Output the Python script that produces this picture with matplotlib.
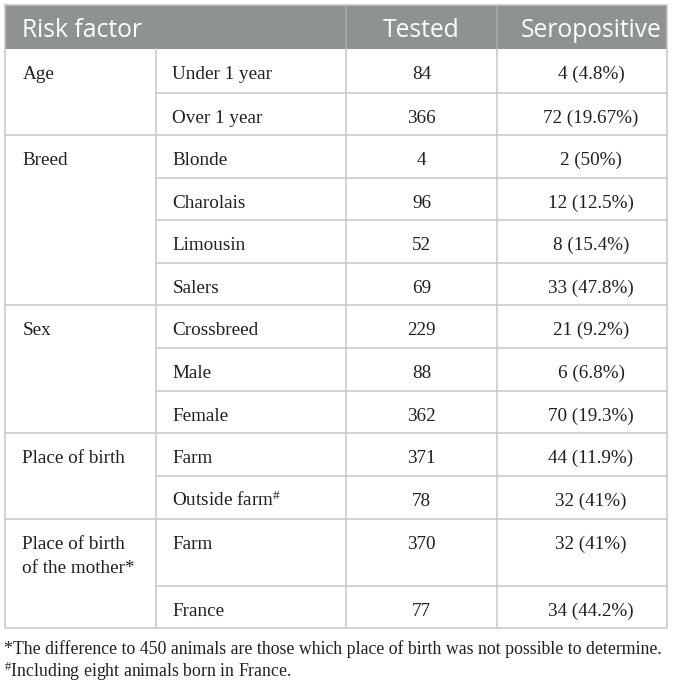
import matplotlib
matplotlib.use("Agg")
import matplotlib.pyplot as plt

# ---- data ----
header = ["Risk factor", "Tested", "Seropositive"]
factors = ["Age", "Breed", "Sex", "Place of birth", "Place of birth\nof the mother*"]
group_sizes = [2, 4, 3, 2, 2]
levels = ["Under 1 year", "Over 1 year", "Blonde", "Charolais", "Limousin", "Salers",
          "Crossbreed", "Male", "Female", "Farm", "Outside farm$^{\\#}$", "Farm", "France"]
tested = [84, 366, 4, 96, 52, 69, 229, 88, 362, 371, 78, 370, 77]
positive = [4, 72, 2, 12, 8, 33, 21, 6, 70, 44, 32, 32, 34]
percent = ["4.8", "19.67", "50", "12.5", "15.4", "47.8", "9.2", "6.8", "19.3", "11.9", "41", "41", "44.2"]
footnotes = ["*The difference to 450 animals are those which place of birth was not possible to determine.",
             "$^{\\#}$Including eight animals born in France."]

# ---- layout (pixels) ----
plt.rcParams['mathtext.fontset'] = 'custom'
plt.rcParams['mathtext.rm'] = 'Liberation Serif'
plt.rcParams['mathtext.it'] = 'Liberation Serif:italic'

W, H = 673, 686
fig = plt.figure(figsize=(W / 100, H / 100), dpi=100)
ax = fig.add_axes([0, 0, 1, 1])
ax.set_xlim(0, W)
ax.set_ylim(H, 0)
ax.axis('off')

left, right = 4.5, 667
col_x = [left, 156, 346, 497, right]
head_top, head_bot = 4.5, 49.3
row_tops = [49.3, 92.7, 135, 177.5, 220, 263, 305, 348, 391, 433.3, 476, 519, 586]
table_bot = 628

header_col = "#8e9293"
line_col = "#c6c6c6"
text_col = "#231f20"
lw = 1.1

# header
ax.add_patch(plt.Rectangle((left, head_top), right - left, head_bot - head_top,
                           facecolor=header_col, edgecolor='none', zorder=1))
for x in col_x[2:4]:
    ax.plot([x, x], [head_top, head_bot], color="#a9adae", lw=lw, zorder=2)
hfont = dict(family="Open Sans", fontsize=17.7, color="white", va="baseline")
ax.text(22.5, 36.7, header[0], ha="left", **hfont)
ax.text(421, 36.7, header[1], ha="center", **hfont)
ax.text(591, 36.7, header[2], ha="center", **hfont)

# body
bfont = dict(family="Liberation Serif", fontsize=13.8, color=text_col, va="baseline")
i = 0
for g, (fac, n) in enumerate(zip(factors, group_sizes)):
    gtop = row_tops[i]
    for k, line in enumerate(fac.split("\n")):
        ax.text(22.5, gtop + 30 + 24 * k, line, ha="left", **bfont)
    for j in range(n):
        top = row_tops[i]
        ax.text(172.5, top + 30, levels[i], ha="left", **bfont)
        ax.text(421.5, top + 30, str(tested[i]), ha="center", **bfont)
        ax.text(591, top + 30, f"{positive[i]} ({percent[i]}%)", ha="center", **bfont)
        if j > 0:
            ax.plot([col_x[1], right], [top, top], color=line_col, lw=lw, zorder=2)
        i += 1
    if g > 0:
        ax.plot([left, right], [gtop, gtop], color=line_col, lw=lw, zorder=2)

# verticals
for x in col_x[1:4]:
    ax.plot([x, x], [head_bot, table_bot], color=line_col, lw=lw, zorder=2)
# outer border
ax.plot([left, right, right, left, left], [head_top, head_top, table_bot, table_bot, head_top],
        color=line_col, lw=lw, zorder=3)

# footnotes
ffont = dict(family="Liberation Serif", fontsize=12.8, color=text_col, va="baseline", ha="left")
ax.text(4.5, 653.5, footnotes[0], **ffont)
ax.text(4.5, 677, footnotes[1], **ffont)

fig.savefig("out.png", dpi=100)
